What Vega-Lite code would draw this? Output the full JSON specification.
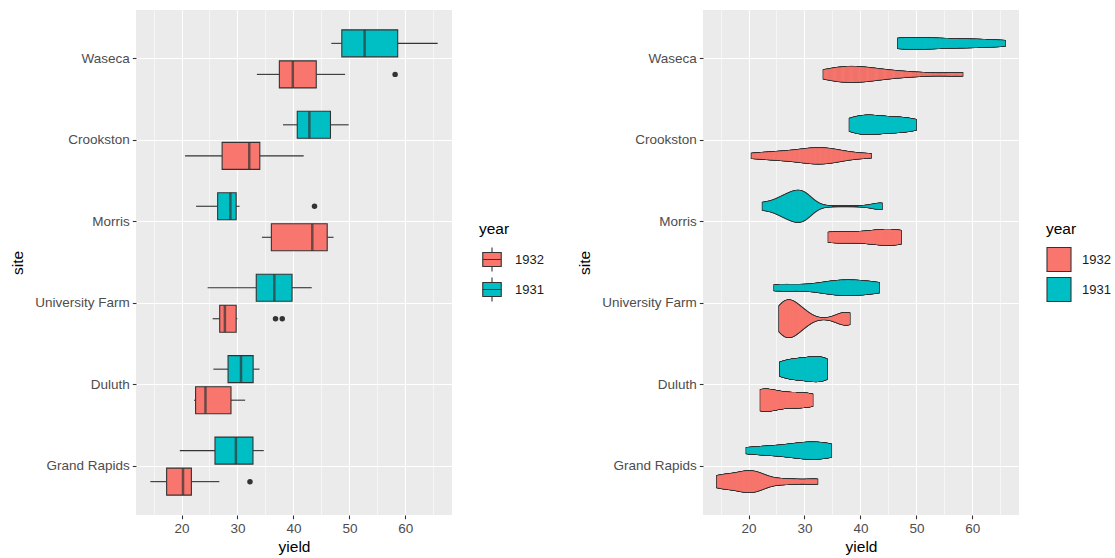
{
  "$schema": "https://vega.github.io/schema/vega-lite/v6.json",
  "autosize": {"type": "pad"},
  "padding": {"left": 10, "top": 10, "right": 0, "bottom": 0},
  "datasets": {
    "barley": [
      {"variety": "Manchuria", "year": 1931, "site": "University Farm", "yield": 27},
      {"variety": "Manchuria", "year": 1931, "site": "Waseca", "yield": 48.86667},
      {"variety": "Manchuria", "year": 1931, "site": "Morris", "yield": 27.43334},
      {"variety": "Manchuria", "year": 1931, "site": "Crookston", "yield": 39.93333},
      {"variety": "Manchuria", "year": 1931, "site": "Grand Rapids", "yield": 32.96667},
      {"variety": "Manchuria", "year": 1931, "site": "Duluth", "yield": 28.96667},
      {"variety": "Glabron", "year": 1931, "site": "University Farm", "yield": 43.06666},
      {"variety": "Glabron", "year": 1931, "site": "Waseca", "yield": 55.2},
      {"variety": "Glabron", "year": 1931, "site": "Morris", "yield": 28.76667},
      {"variety": "Glabron", "year": 1931, "site": "Crookston", "yield": 38.13333},
      {"variety": "Glabron", "year": 1931, "site": "Grand Rapids", "yield": 29.13333},
      {"variety": "Glabron", "year": 1931, "site": "Duluth", "yield": 29.66667},
      {"variety": "Svansota", "year": 1931, "site": "University Farm", "yield": 35.13333},
      {"variety": "Svansota", "year": 1931, "site": "Waseca", "yield": 47.33333},
      {"variety": "Svansota", "year": 1931, "site": "Morris", "yield": 25.76667},
      {"variety": "Svansota", "year": 1931, "site": "Crookston", "yield": 40.46667},
      {"variety": "Svansota", "year": 1931, "site": "Grand Rapids", "yield": 29.66667},
      {"variety": "Svansota", "year": 1931, "site": "Duluth", "yield": 25.7},
      {"variety": "Velvet", "year": 1931, "site": "University Farm", "yield": 39.9},
      {"variety": "Velvet", "year": 1931, "site": "Waseca", "yield": 50.23333},
      {"variety": "Velvet", "year": 1931, "site": "Morris", "yield": 26.13333},
      {"variety": "Velvet", "year": 1931, "site": "Crookston", "yield": 41.33333},
      {"variety": "Velvet", "year": 1931, "site": "Grand Rapids", "yield": 23.03333},
      {"variety": "Velvet", "year": 1931, "site": "Duluth", "yield": 26.3},
      {"variety": "Trebi", "year": 1931, "site": "University Farm", "yield": 36.56666},
      {"variety": "Trebi", "year": 1931, "site": "Waseca", "yield": 63.8333},
      {"variety": "Trebi", "year": 1931, "site": "Morris", "yield": 43.76667},
      {"variety": "Trebi", "year": 1931, "site": "Crookston", "yield": 46.93333},
      {"variety": "Trebi", "year": 1931, "site": "Grand Rapids", "yield": 29.76667},
      {"variety": "Trebi", "year": 1931, "site": "Duluth", "yield": 33.93333},
      {"variety": "No. 457", "year": 1931, "site": "University Farm", "yield": 43.26667},
      {"variety": "No. 457", "year": 1931, "site": "Waseca", "yield": 58.1},
      {"variety": "No. 457", "year": 1931, "site": "Morris", "yield": 28.7},
      {"variety": "No. 457", "year": 1931, "site": "Crookston", "yield": 45.66667},
      {"variety": "No. 457", "year": 1931, "site": "Grand Rapids", "yield": 32.16667},
      {"variety": "No. 457", "year": 1931, "site": "Duluth", "yield": 33.6},
      {"variety": "No. 462", "year": 1931, "site": "University Farm", "yield": 36.6},
      {"variety": "No. 462", "year": 1931, "site": "Waseca", "yield": 65.7667},
      {"variety": "No. 462", "year": 1931, "site": "Morris", "yield": 30.36667},
      {"variety": "No. 462", "year": 1931, "site": "Crookston", "yield": 48.56666},
      {"variety": "No. 462", "year": 1931, "site": "Grand Rapids", "yield": 24.93334},
      {"variety": "No. 462", "year": 1931, "site": "Duluth", "yield": 28.1},
      {"variety": "Peatland", "year": 1931, "site": "University Farm", "yield": 32.76667},
      {"variety": "Peatland", "year": 1931, "site": "Waseca", "yield": 48.56666},
      {"variety": "Peatland", "year": 1931, "site": "Morris", "yield": 29.86667},
      {"variety": "Peatland", "year": 1931, "site": "Crookston", "yield": 41.6},
      {"variety": "Peatland", "year": 1931, "site": "Grand Rapids", "yield": 34.7},
      {"variety": "Peatland", "year": 1931, "site": "Duluth", "yield": 32},
      {"variety": "No. 475", "year": 1931, "site": "University Farm", "yield": 24.66667},
      {"variety": "No. 475", "year": 1931, "site": "Waseca", "yield": 46.76667},
      {"variety": "No. 475", "year": 1931, "site": "Morris", "yield": 22.6},
      {"variety": "No. 475", "year": 1931, "site": "Crookston", "yield": 44.1},
      {"variety": "No. 475", "year": 1931, "site": "Grand Rapids", "yield": 19.7},
      {"variety": "No. 475", "year": 1931, "site": "Duluth", "yield": 33.06666},
      {"variety": "Wisconsin No. 38", "year": 1931, "site": "University Farm", "yield": 39.3},
      {"variety": "Wisconsin No. 38", "year": 1931, "site": "Waseca", "yield": 58.8},
      {"variety": "Wisconsin No. 38", "year": 1931, "site": "Morris", "yield": 29.46667},
      {"variety": "Wisconsin No. 38", "year": 1931, "site": "Crookston", "yield": 49.86667},
      {"variety": "Wisconsin No. 38", "year": 1931, "site": "Grand Rapids", "yield": 34.46667},
      {"variety": "Wisconsin No. 38", "year": 1931, "site": "Duluth", "yield": 31.6},
      {"variety": "Manchuria", "year": 1932, "site": "University Farm", "yield": 26.9},
      {"variety": "Manchuria", "year": 1932, "site": "Waseca", "yield": 33.46667},
      {"variety": "Manchuria", "year": 1932, "site": "Morris", "yield": 34.36666},
      {"variety": "Manchuria", "year": 1932, "site": "Crookston", "yield": 32.96667},
      {"variety": "Manchuria", "year": 1932, "site": "Grand Rapids", "yield": 22.13333},
      {"variety": "Manchuria", "year": 1932, "site": "Duluth", "yield": 22.56667},
      {"variety": "Glabron", "year": 1932, "site": "University Farm", "yield": 36.8},
      {"variety": "Glabron", "year": 1932, "site": "Waseca", "yield": 37.73333},
      {"variety": "Glabron", "year": 1932, "site": "Morris", "yield": 35.13333},
      {"variety": "Glabron", "year": 1932, "site": "Crookston", "yield": 26.16667},
      {"variety": "Glabron", "year": 1932, "site": "Grand Rapids", "yield": 14.43333},
      {"variety": "Glabron", "year": 1932, "site": "Duluth", "yield": 25.86667},
      {"variety": "Svansota", "year": 1932, "site": "University Farm", "yield": 27.43334},
      {"variety": "Svansota", "year": 1932, "site": "Waseca", "yield": 38.5},
      {"variety": "Svansota", "year": 1932, "site": "Morris", "yield": 35.03333},
      {"variety": "Svansota", "year": 1932, "site": "Crookston", "yield": 20.63333},
      {"variety": "Svansota", "year": 1932, "site": "Grand Rapids", "yield": 16.63333},
      {"variety": "Svansota", "year": 1932, "site": "Duluth", "yield": 22.23333},
      {"variety": "Velvet", "year": 1932, "site": "University Farm", "yield": 26.8},
      {"variety": "Velvet", "year": 1932, "site": "Waseca", "yield": 37.4},
      {"variety": "Velvet", "year": 1932, "site": "Morris", "yield": 38.83333},
      {"variety": "Velvet", "year": 1932, "site": "Crookston", "yield": 32.06666},
      {"variety": "Velvet", "year": 1932, "site": "Grand Rapids", "yield": 32.23333},
      {"variety": "Velvet", "year": 1932, "site": "Duluth", "yield": 22.46667},
      {"variety": "Trebi", "year": 1932, "site": "University Farm", "yield": 29.06667},
      {"variety": "Trebi", "year": 1932, "site": "Waseca", "yield": 49.2333},
      {"variety": "Trebi", "year": 1932, "site": "Morris", "yield": 46.63333},
      {"variety": "Trebi", "year": 1932, "site": "Crookston", "yield": 41.83333},
      {"variety": "Trebi", "year": 1932, "site": "Grand Rapids", "yield": 20.63333},
      {"variety": "Trebi", "year": 1932, "site": "Duluth", "yield": 30.6},
      {"variety": "No. 457", "year": 1932, "site": "University Farm", "yield": 26.43334},
      {"variety": "No. 457", "year": 1932, "site": "Waseca", "yield": 42.2},
      {"variety": "No. 457", "year": 1932, "site": "Morris", "yield": 43.53334},
      {"variety": "No. 457", "year": 1932, "site": "Crookston", "yield": 34.33333},
      {"variety": "No. 457", "year": 1932, "site": "Grand Rapids", "yield": 19.46667},
      {"variety": "No. 457", "year": 1932, "site": "Duluth", "yield": 22.7},
      {"variety": "No. 462", "year": 1932, "site": "University Farm", "yield": 25.56667},
      {"variety": "No. 462", "year": 1932, "site": "Waseca", "yield": 44.7},
      {"variety": "No. 462", "year": 1932, "site": "Morris", "yield": 47},
      {"variety": "No. 462", "year": 1932, "site": "Crookston", "yield": 30.53333},
      {"variety": "No. 462", "year": 1932, "site": "Grand Rapids", "yield": 19.9},
      {"variety": "No. 462", "year": 1932, "site": "Duluth", "yield": 22.5},
      {"variety": "Peatland", "year": 1932, "site": "University Farm", "yield": 28.06667},
      {"variety": "Peatland", "year": 1932, "site": "Waseca", "yield": 36.03333},
      {"variety": "Peatland", "year": 1932, "site": "Morris", "yield": 43.2},
      {"variety": "Peatland", "year": 1932, "site": "Crookston", "yield": 25.23333},
      {"variety": "Peatland", "year": 1932, "site": "Grand Rapids", "yield": 26.76667},
      {"variety": "Peatland", "year": 1932, "site": "Duluth", "yield": 31.36667},
      {"variety": "No. 475", "year": 1932, "site": "University Farm", "yield": 30},
      {"variety": "No. 475", "year": 1932, "site": "Waseca", "yield": 41.26667},
      {"variety": "No. 475", "year": 1932, "site": "Morris", "yield": 44.23333},
      {"variety": "No. 475", "year": 1932, "site": "Crookston", "yield": 32.13333},
      {"variety": "No. 475", "year": 1932, "site": "Grand Rapids", "yield": 15.23333},
      {"variety": "No. 475", "year": 1932, "site": "Duluth", "yield": 27.36667},
      {"variety": "Wisconsin No. 38", "year": 1932, "site": "University Farm", "yield": 38},
      {"variety": "Wisconsin No. 38", "year": 1932, "site": "Waseca", "yield": 58.16667},
      {"variety": "Wisconsin No. 38", "year": 1932, "site": "Morris", "yield": 47.16667},
      {"variety": "Wisconsin No. 38", "year": 1932, "site": "Crookston", "yield": 35.9},
      {"variety": "Wisconsin No. 38", "year": 1932, "site": "Grand Rapids", "yield": 20.66667},
      {"variety": "Wisconsin No. 38", "year": 1932, "site": "Duluth", "yield": 29.33333}
    ]
  },
  "hconcat": [
    {
      "width": 316,
      "height": 505,
      "data": {"name": "barley"},
      "encoding": {
        "x": {
          "field": "yield", "type": "quantitative", "title": "yield",
          "scale": {"domain": [11.87, 68.33], "nice": false, "zero": false},
          "axis": {
            "values": [15, 20, 25, 30, 35, 40, 45, 50, 55, 60, 65],
            "labelExpr": "datum.value % 10 === 0 ? datum.label : ''",
            "gridWidth": {"condition": {"test": "datum.value % 10 === 0", "value": 1.1}, "value": 0.55},
            "tickOpacity": {"condition": {"test": "datum.value % 10 === 0", "value": 1}, "value": 0}
          }
        },
        "y": {
          "field": "site", "type": "nominal", "title": "site",
          "scale": {"domain": ["Waseca", "Crookston", "Morris", "University Farm", "Duluth", "Grand Rapids"], "paddingInner": 0, "paddingOuter": 0.1}
        },
        "yOffset": {
          "field": "year", "type": "nominal",
          "scale": {"domain": [1931, 1932], "paddingInner": 0, "paddingOuter": 0.313}
        }
      },
      "layer": [
        {
          "mark": {
            "type": "boxplot",
            "extent": 1.5,
            "size": 27,
            "box": {"stroke": "#333333", "strokeWidth": 1.1},
            "median": {"color": "#333333", "thickness": 2.5},
            "rule": {"color": "#333333", "strokeWidth": 1.1},
            "ticks": false,
            "outliers": false
          },
          "encoding": {
            "color": {
              "field": "year", "type": "nominal", "title": "year",
              "scale": {"domain": [1932, 1931], "range": ["#F8766D", "#00BFC4"]},
              "legend": {
                "symbolType": "M-0.77,-0.58H0.77V0.58H-0.77Z M-0.77,0H0.77 M0,-1V-0.58 M0,0.58V1",
                "symbolStrokeColor": "#333333",
                "symbolStrokeWidth": 1.1,
                "symbolOpacity": 1
              }
            }
          }
        },
        {
          "transform": [
            {"joinaggregate": [{"op": "q1", "field": "yield", "as": "q1"}, {"op": "q3", "field": "yield", "as": "q3"}], "groupby": ["site", "year"]},
            {"filter": "datum.yield < datum.q1 - 1.5 * (datum.q3 - datum.q1) || datum.yield > datum.q3 + 1.5 * (datum.q3 - datum.q1)"}
          ],
          "mark": {"type": "point", "filled": true, "color": "#333333", "size": 30, "opacity": 1}
        }
      ]
    },
    {
      "width": 316,
      "height": 505,
      "data": {"name": "barley"},
      "transform": [
        {"density": "yield", "groupby": ["site", "year"], "resolve": "independent", "steps": 260, "as": ["yield", "density"]}
      ],
      "encoding": {
        "x": {
          "field": "yield", "type": "quantitative", "title": "yield",
          "scale": {"domain": [11.87, 68.33], "nice": false, "zero": false},
          "axis": {
            "values": [15, 20, 25, 30, 35, 40, 45, 50, 55, 60, 65],
            "labelExpr": "datum.value % 10 === 0 ? datum.label : ''",
            "gridWidth": {"condition": {"test": "datum.value % 10 === 0", "value": 1.1}, "value": 0.55},
            "tickOpacity": {"condition": {"test": "datum.value % 10 === 0", "value": 1}, "value": 0}
          }
        },
        "y": {
          "field": "site", "type": "nominal", "title": "site",
          "scale": {"domain": ["Waseca", "Crookston", "Morris", "University Farm", "Duluth", "Grand Rapids"], "paddingInner": 0, "paddingOuter": 0.1}
        },
        "yOffset": {
          "field": "year", "type": "nominal",
          "scale": {"domain": [1931, 1932], "paddingInner": 0, "paddingOuter": 0.111}
        }
      },
      "layer": [
        {
          "mark": {"type": "tick", "color": "#333333", "thickness": 2.6, "opacity": 1},
          "encoding": {
            "size": {"field": "density", "type": "quantitative", "scale": {"zero": true, "range": [1.6, 38.3]}, "legend": null}
          }
        },
        {
          "mark": {"type": "tick", "thickness": 1, "opacity": 1},
          "encoding": {
            "size": {"field": "density", "type": "quantitative", "scale": {"zero": true, "range": [0, 36.7]}, "legend": null},
            "color": {
              "field": "year", "type": "nominal", "title": "year",
              "scale": {"domain": [1932, 1931], "range": ["#F8766D", "#00BFC4"]},
              "legend": {"symbolType": "square", "symbolStrokeColor": "#333333", "symbolStrokeWidth": 1.1, "symbolOpacity": 1}
            }
          }
        }
      ],
      "resolve": {"scale": {"size": "independent"}}
    }
  ],
  "bounds": "flush",
  "spacing": 251,
  "resolve": {"scale": {"color": "independent"}, "legend": {"color": "independent"}},
  "config": {
    "font": "Liberation Sans",
    "view": {"fill": "#EBEBEB", "stroke": null},
    "axis": {
      "domain": false,
      "grid": true,
      "gridColor": "#FFFFFF",
      "gridWidth": 1.1,
      "tickColor": "#333333",
      "tickSize": 3.7,
      "tickWidth": 1.1,
      "labelColor": "#4D4D4D",
      "labelFontSize": 13.5,
      "labelPadding": 3,
      "titleFontSize": 15.5,
      "titleFontWeight": "normal",
      "titleColor": "#000000"
    },
    "axisX": {"titlePadding": 4},
    "axisY": {"titlePadding": 9},
    "legend": {
      "titleFontSize": 15.5,
      "titleFontWeight": "normal",
      "titleColor": "#000000",
      "titlePadding": 9,
      "labelFontSize": 13,
      "labelColor": "#1A1A1A",
      "labelOffset": 10,
      "symbolSize": 576,
      "rowPadding": 0,
      "offset": 27,
      "layout": {"right": {"anchor": "middle"}}
    }
  }
}
